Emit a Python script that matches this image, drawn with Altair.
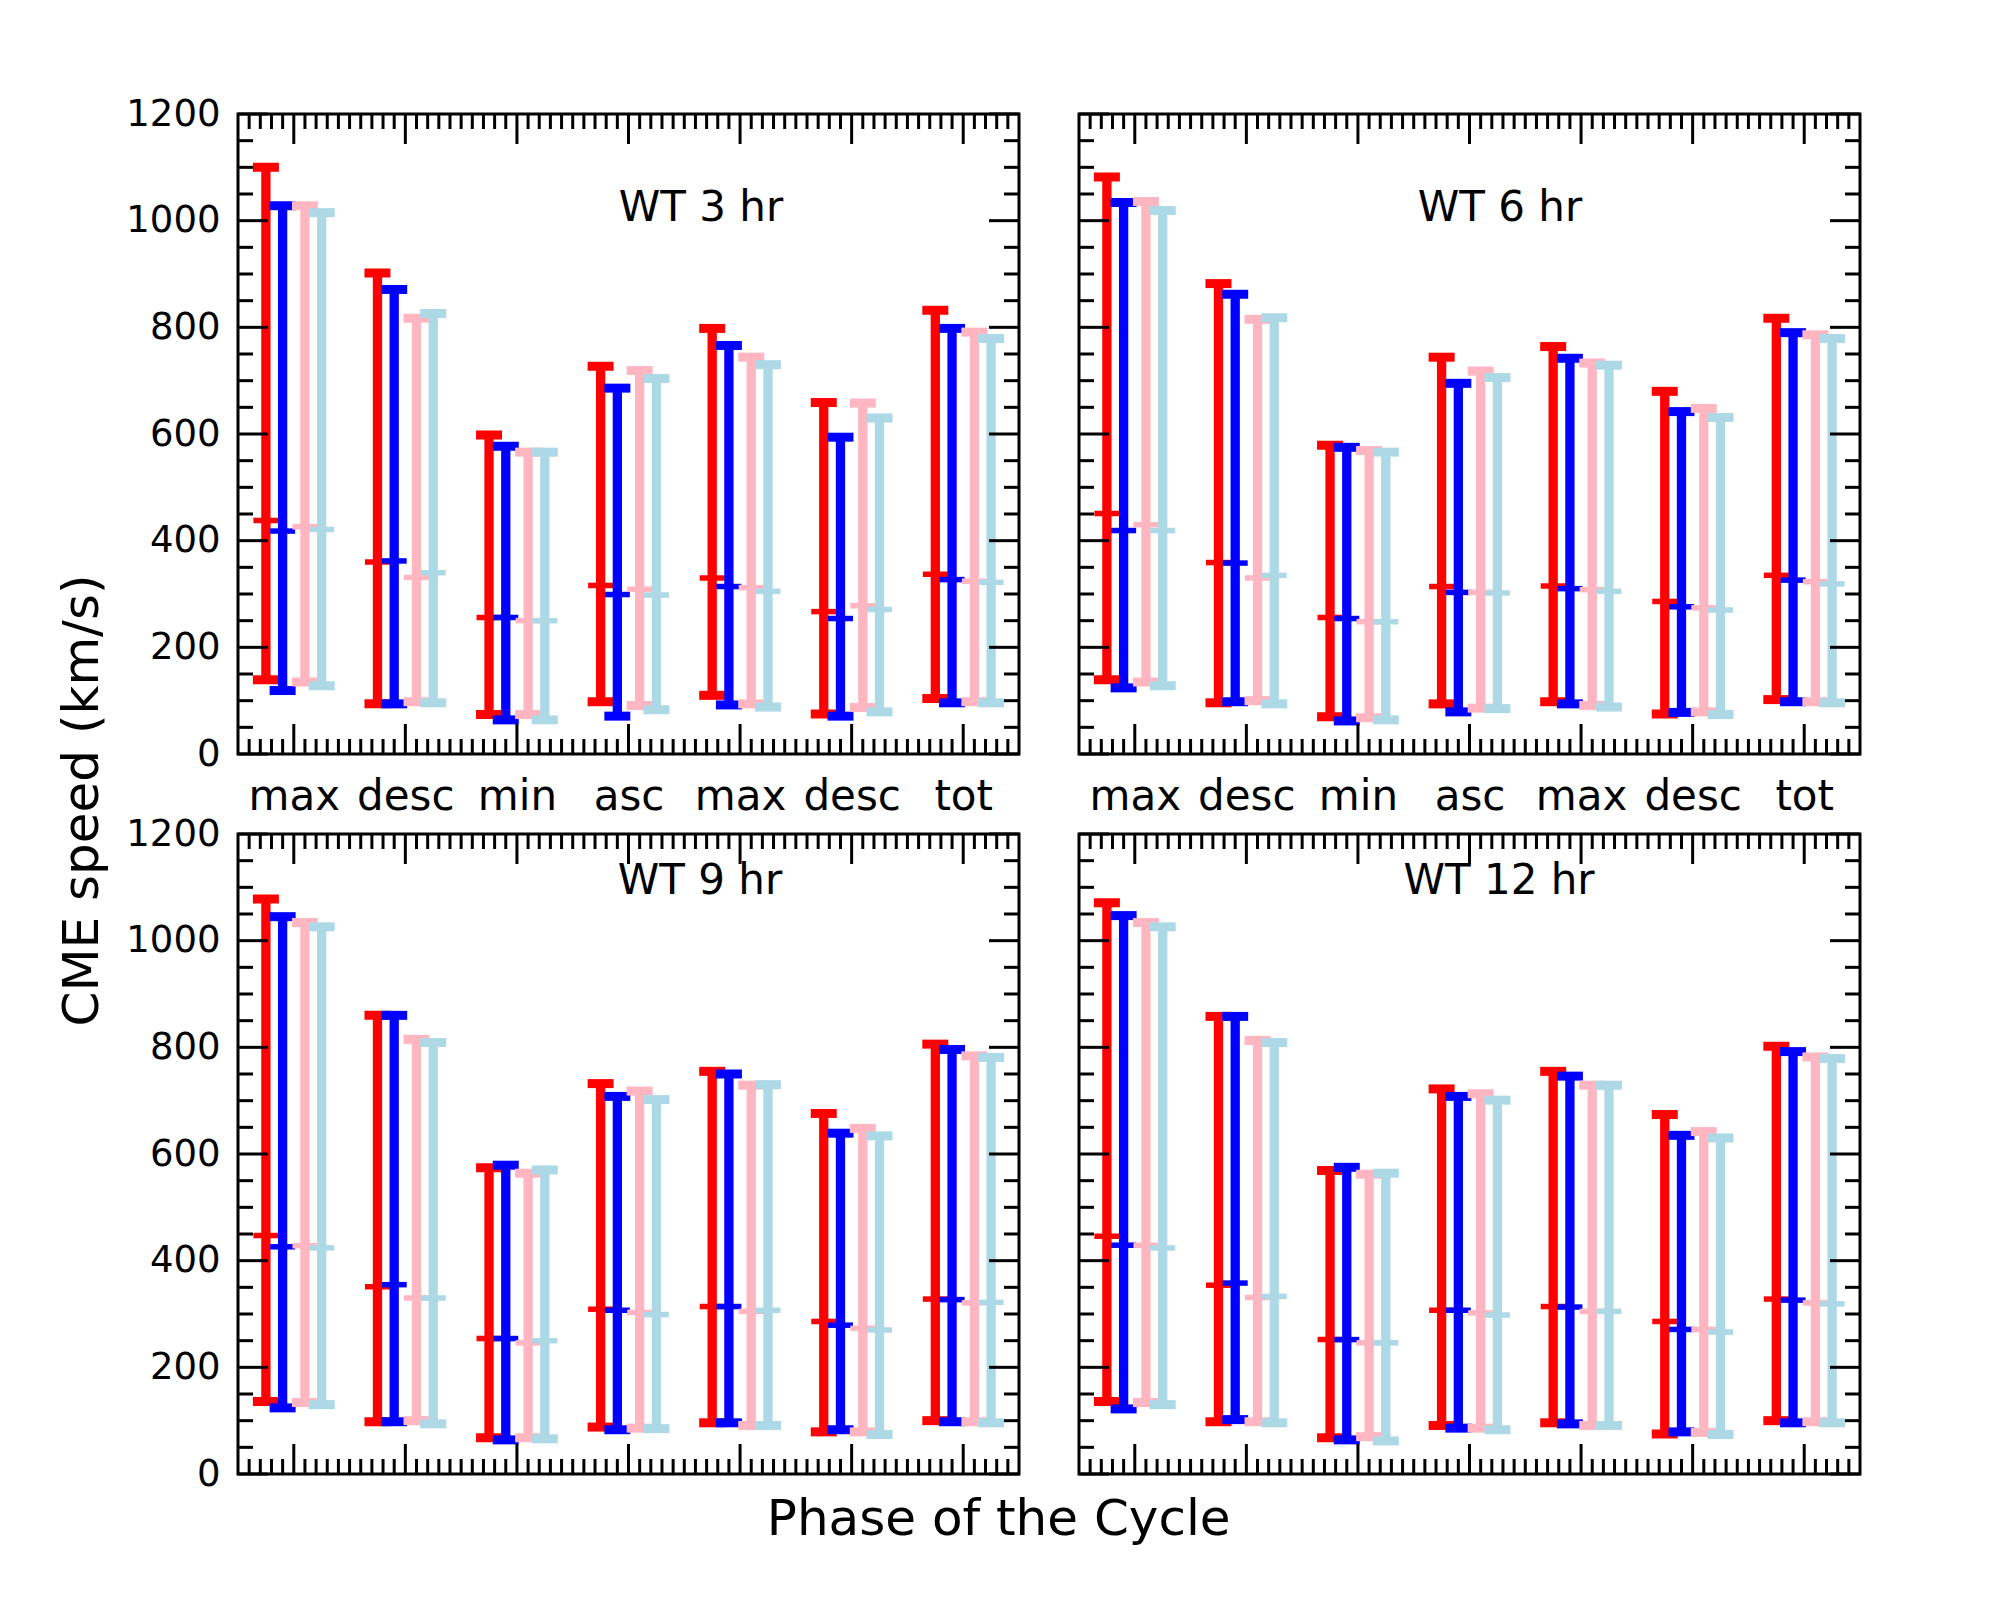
import altair as alt
import pandas as pd

# ---------------- data ----------------
phases = ["max", "desc", "min", "asc", "max", "desc", "tot"]
series_names = ["A", "B", "C", "D"]
series_colors = ["#ff0000", "#0000ff", "#ffb6c1", "#add8e6"]
panel_titles = ["WT 3 hr", "WT 6 hr", "WT 9 hr", "WT 12 hr"]

# WT 3 hr
wt3_red_hi = [1100, 902, 598, 727, 798, 659, 832]
wt3_red_mean = [438, 360, 256, 316, 330, 267, 337]
wt3_red_lo = [139, 94, 74, 98, 110, 75, 104]
wt3_blue_hi = [1028, 871, 577, 686, 766, 594, 798]
wt3_blue_mean = [418, 362, 256, 299, 314, 254, 327]
wt3_blue_lo = [119, 94, 64, 71, 92, 71, 96]
wt3_pink_hi = [1028, 817, 566, 719, 744, 658, 791]
wt3_pink_mean = [426, 331, 250, 309, 312, 278, 324]
wt3_pink_lo = [135, 98, 74, 91, 94, 87, 98]
wt3_lb_hi = [1015, 826, 566, 704, 730, 630, 779]
wt3_lb_mean = [421, 340, 250, 298, 305, 271, 322]
wt3_lb_lo = [128, 96, 64, 83, 88, 79, 96]

# WT 6 hr
wt6_red_hi = [1082, 882, 579, 744, 764, 680, 817]
wt6_red_mean = [451, 359, 256, 314, 315, 286, 335]
wt6_red_lo = [139, 96, 70, 94, 98, 75, 102]
wt6_blue_hi = [1034, 862, 575, 695, 742, 642, 790]
wt6_blue_mean = [419, 358, 254, 303, 310, 276, 326]
wt6_blue_lo = [124, 98, 62, 79, 94, 78, 98]
wt6_pink_hi = [1036, 815, 569, 718, 733, 648, 786]
wt6_pink_mean = [430, 330, 248, 303, 308, 274, 323]
wt6_pink_lo = [135, 100, 68, 86, 91, 79, 98]
wt6_lb_hi = [1019, 818, 566, 706, 729, 631, 779]
wt6_lb_mean = [419, 335, 248, 302, 305, 270, 319]
wt6_lb_lo = [128, 94, 64, 85, 88, 74, 96]

# WT 9 hr
wt9_red_hi = [1078, 860, 574, 732, 755, 676, 806]
wt9_red_mean = [447, 351, 254, 309, 314, 286, 328]
wt9_red_lo = [136, 98, 68, 88, 96, 79, 100]
wt9_blue_hi = [1045, 860, 579, 708, 750, 639, 796]
wt9_blue_mean = [426, 355, 254, 307, 314, 279, 327]
wt9_blue_lo = [124, 98, 64, 83, 96, 83, 98]
wt9_pink_hi = [1034, 815, 564, 718, 729, 648, 784]
wt9_pink_mean = [428, 330, 246, 303, 305, 273, 321]
wt9_pink_lo = [134, 100, 68, 86, 91, 79, 98]
wt9_lb_hi = [1026, 809, 570, 702, 730, 634, 781]
wt9_lb_mean = [424, 330, 250, 299, 307, 270, 322]
wt9_lb_lo = [130, 94, 66, 85, 91, 74, 96]

# WT 12 hr
wt12_red_hi = [1071, 858, 569, 722, 755, 674, 802]
wt12_red_mean = [446, 354, 252, 307, 314, 286, 328]
wt12_red_lo = [136, 98, 68, 91, 96, 75, 100]
wt12_blue_hi = [1047, 858, 575, 708, 746, 635, 792]
wt12_blue_mean = [429, 358, 252, 307, 313, 271, 326]
wt12_blue_lo = [122, 102, 64, 86, 94, 79, 96]
wt12_pink_hi = [1034, 813, 562, 713, 729, 642, 782]
wt12_pink_mean = [429, 331, 246, 302, 305, 271, 321]
wt12_pink_lo = [134, 98, 70, 86, 91, 78, 98]
wt12_lb_hi = [1026, 809, 564, 701, 729, 630, 779]
wt12_lb_mean = [424, 333, 246, 298, 305, 266, 319]
wt12_lb_lo = [130, 96, 62, 83, 91, 74, 96]

y_major = [0, 200, 400, 600, 800, 1000, 1200]
y_minor = [v for v in range(50, 1200, 50) if v % 200 != 0]
x_major = [1, 2, 3, 4, 5, 6, 7]
x_minor = [round(0.5 + 0.1 * k, 1) for k in range(1, 70) if (5 + k) % 10 != 0]

panels_data = [
    [(wt3_red_lo, wt3_red_mean, wt3_red_hi), (wt3_blue_lo, wt3_blue_mean, wt3_blue_hi),
     (wt3_pink_lo, wt3_pink_mean, wt3_pink_hi), (wt3_lb_lo, wt3_lb_mean, wt3_lb_hi)],
    [(wt6_red_lo, wt6_red_mean, wt6_red_hi), (wt6_blue_lo, wt6_blue_mean, wt6_blue_hi),
     (wt6_pink_lo, wt6_pink_mean, wt6_pink_hi), (wt6_lb_lo, wt6_lb_mean, wt6_lb_hi)],
    [(wt9_red_lo, wt9_red_mean, wt9_red_hi), (wt9_blue_lo, wt9_blue_mean, wt9_blue_hi),
     (wt9_pink_lo, wt9_pink_mean, wt9_pink_hi), (wt9_lb_lo, wt9_lb_mean, wt9_lb_hi)],
    [(wt12_red_lo, wt12_red_mean, wt12_red_hi), (wt12_blue_lo, wt12_blue_mean, wt12_blue_hi),
     (wt12_pink_lo, wt12_pink_mean, wt12_pink_hi), (wt12_lb_lo, wt12_lb_mean, wt12_lb_hi)],
]

# ---------------- styling ----------------
W, H = 781, 640
FONT = "DejaVu Sans"
series_offsets = [-0.25, -0.1, 0.1, 0.25]
MAJ, MIN = 30, 15

xs = alt.Scale(domain=[0.5, 7.5], nice=False, zero=False)
ys = alt.Scale(domain=[0, 1200], nice=False, zero=False)
cs = alt.Scale(domain=series_names, range=series_colors)

label_expr = "[" + ",".join("'%s'" % p for p in phases) + "][datum.value - 1]"


def make_panel(idx, show_x, show_y, tx, ty):
    if show_x:
        xaxis = alt.Axis(values=x_major, labelExpr=label_expr, ticks=False, tickSize=0,
                         domain=False, grid=False, title=None, labelFont=FONT,
                         labelFontSize=42, labelPadding=22, labelColor="black",
                         labelFlush=False, labelOverlap=False)
    else:
        xaxis = None
    if show_y:
        yaxis = alt.Axis(values=y_major, format="d", ticks=False, tickSize=0, domain=False,
                         grid=False, title=None, labelFont=FONT, labelFontSize=37,
                         labelPadding=18, labelColor="black", labelFlush=False,
                         labelOverlap=False)
    else:
        yaxis = None

    layers = []
    for si, s in enumerate(series_names):
        lo, mean, hi = panels_data[idx][si]
        df = pd.DataFrame({
            "series": [s] * 7,
            "pos": [g + 1 + series_offsets[si] for g in range(7)],
            "lo": lo, "mean": mean, "hi": hi,
        })
        base = alt.Chart(df)
        X = alt.X("pos:Q", scale=xs, axis=xaxis)
        C = alt.Color("series:N", scale=cs, legend=None)
        layers.append(base.mark_rule(strokeWidth=9.3).encode(
            x=X, y=alt.Y("lo:Q", scale=ys, axis=yaxis), y2="hi:Q", color=C))
        layers.append(base.mark_tick(orient="horizontal", size=26, thickness=9, opacity=1).encode(
            x=X, y=alt.Y("lo:Q", scale=ys, axis=yaxis), color=C))
        layers.append(base.mark_tick(orient="horizontal", size=26, thickness=9, opacity=1).encode(
            x=X, y=alt.Y("hi:Q", scale=ys, axis=yaxis), color=C))
        layers.append(base.mark_tick(orient="horizontal", size=25, thickness=5.5, opacity=1).encode(
            x=X, y=alt.Y("mean:Q", scale=ys, axis=yaxis), color=C))

    # inward ticks on all four sides
    ymaj = alt.Chart(pd.DataFrame({"v": y_major}))
    ymin = alt.Chart(pd.DataFrame({"v": y_minor}))
    xmaj = alt.Chart(pd.DataFrame({"v": x_major}))
    xmin = alt.Chart(pd.DataFrame({"v": x_minor}))
    tick = dict(color="black", strokeWidth=3)
    for src, L in ((ymaj, MAJ), (ymin, MIN)):
        Y = alt.Y("v:Q", scale=ys, axis=yaxis)
        layers.append(src.mark_rule(**tick).encode(y=Y, x=alt.value(0), x2=alt.value(L)))
        layers.append(src.mark_rule(**tick).encode(y=Y, x=alt.value(W), x2=alt.value(W - L)))
    for src, L in ((xmaj, MAJ), (xmin, MIN)):
        X = alt.X("v:Q", scale=xs, axis=xaxis)
        layers.append(src.mark_rule(**tick).encode(x=X, y=alt.value(H), y2=alt.value(H - L)))
        layers.append(src.mark_rule(**tick).encode(x=X, y=alt.value(0), y2=alt.value(L)))

    txt = alt.Chart(pd.DataFrame({"t": [panel_titles[idx]]})).mark_text(
        font=FONT, fontSize=42, align="center", baseline="alphabetic", color="black"
    ).encode(x=alt.value(tx), y=alt.value(ty), text="t:N")
    layers.append(txt)

    return alt.layer(*layers).properties(
        width=W, height=H,
        view=alt.ViewBackground(stroke="black", strokeWidth=3, fill="white"),
    )


p1 = make_panel(0, True, True, 463, 107)
p2 = make_panel(1, True, False, 421, 107)
p3 = make_panel(2, False, True, 462, 60)
p4 = make_panel(3, False, False, 420, 60)

grid = alt.concat(p1, p2, p3, p4, columns=2, spacing={"row": 80, "column": 60},
                  bounds="flush").properties(
    title=alt.TitleParams("CME speed (km/s)", orient="left", anchor="middle", frame="bounds",
                          font=FONT, fontSize=50, fontWeight="normal", color="black", offset=16,
                          dx=-7)
)
chart = alt.vconcat(grid).properties(
    title=alt.TitleParams("Phase of the Cycle", orient="bottom", anchor="middle", frame="bounds",
                          font=FONT, fontSize=50, fontWeight="normal", color="black", offset=1,
                          dx=38),
    padding={"left": 50, "top": 85, "right": 40, "bottom": 40},
).configure_view(stroke="black", strokeWidth=3).configure(font=FONT)

chart.save("out.html", embed_options={"renderer": "svg", "actions": False})
